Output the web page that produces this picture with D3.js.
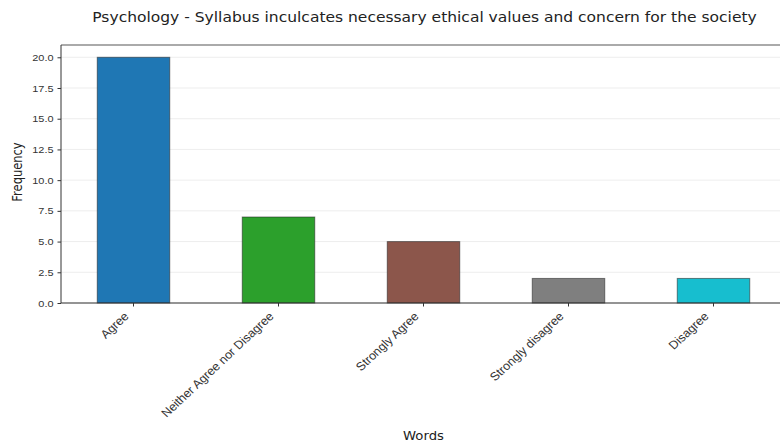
<!DOCTYPE html>
<html><head><meta charset="utf-8">
<script src="https://cdn.jsdelivr.net/npm/d3@7"></script>
<style>body{margin:0;background:#fff;}svg{display:block;font-family:"DejaVu Sans",sans-serif;}</style>
</head><body><svg id="c" width="780" height="447"></svg>
<script>
const categories = ["Agree","Neither Agree nor Disagree","Strongly Agree","Strongly disagree","Disagree"];
const values = [20, 7, 5, 2, 2];
const colors = ["#1f77b4","#2ca02c","#8c564b","#7f7f7f","#17becf"];
const yTicks = [0,2.5,5,7.5,10,12.5,15,17.5,20];

const SX = 1.15; // horizontal stretch of the reference picture
const svg = d3.select("#c");
const L = 61, R = 786, T = 45, B = 303;
const x = d3.scaleBand().domain(categories).range([L,R]).paddingInner(0.5).paddingOuter(0.25);
const y = d3.scaleLinear().domain([0,21]).range([B,T]);

// grid
svg.append("g").selectAll("line").data(yTicks).join("line")
  .attr("x1",L).attr("x2",R).attr("y1",d=>y(d)).attr("y2",d=>y(d))
  .attr("stroke","#e8e8e8").attr("stroke-width",0.8);

svg.append("g").selectAll("rect").data(values).join("rect")
  .attr("x",(d,i)=>x(categories[i])).attr("width",x.bandwidth())
  .attr("y",d=>y(d)).attr("height",d=>B-y(d))
  .attr("fill",(d,i)=>colors[i]).attr("stroke","#222").attr("stroke-opacity",0.55).attr("stroke-width",1);

// top spine
svg.append("line").attr("x1",L).attr("x2",R).attr("y1",T).attr("y2",T).attr("stroke","#aaa").attr("stroke-width",2);

const ya = svg.append("g").attr("transform",`translate(${L},0)`)
  .call(d3.axisLeft(y).tickValues(yTicks).tickFormat(d3.format(".1f")).tickSize(3.5).tickPadding(3));
ya.select(".domain").attr("stroke","#333").attr("d",`M0,${T}V${B}`);
ya.selectAll(".tick line").attr("stroke","#333");
ya.selectAll("text").attr("font-size",9.5).attr("fill","#333")
  .attr("x",0).attr("transform",`translate(-7.5,0) scale(${SX},1)`);

const xa = svg.append("g").attr("transform",`translate(0,${B})`)
  .call(d3.axisBottom(x).tickSize(3.5).tickPadding(3));
xa.select(".domain").attr("stroke","#333").attr("d",`M${L},0H${R}`);
xa.selectAll(".tick line").attr("stroke","#333");
xa.selectAll("text").attr("font-size",11.8).attr("fill","#333")
  .attr("text-anchor","end").attr("x",0).attr("y",0).attr("dy",0)
  .attr("transform",`translate(-4,14) scale(1.07,1) rotate(-45)`);

svg.append("text").attr("transform",`translate(${(L+R)/2+1},22) scale(${SX},1)`).attr("text-anchor","middle")
  .attr("font-size",13.5).attr("fill","#222").text("Psychology - Syllabus inculcates necessary ethical values and concern for the society");
svg.append("text").attr("transform",`translate(22,${(T+B)/2-2}) scale(${SX},1) rotate(-90)`).attr("text-anchor","middle")
  .attr("font-size",11.5).attr("fill","#222").text("Frequency");
svg.append("text").attr("transform",`translate(${(L+R)/2},440) scale(${SX},1)`).attr("text-anchor","middle")
  .attr("font-size",11.5).attr("fill","#222").text("Words");
</script></body></html>
